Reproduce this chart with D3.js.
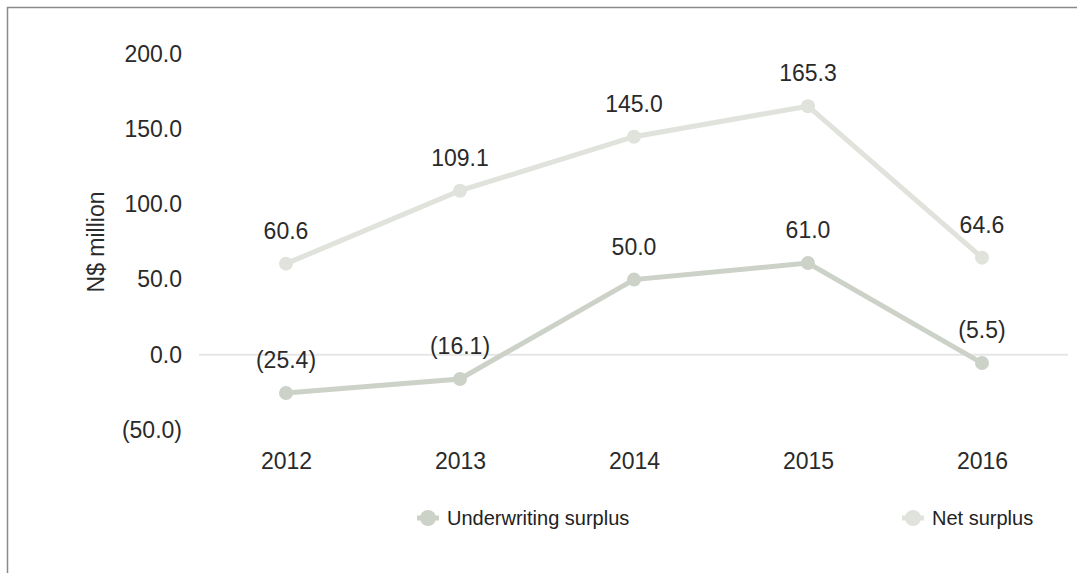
<!DOCTYPE html>
<html>
<head>
<meta charset="utf-8">
<script src="https://cdn.jsdelivr.net/npm/d3@7"></script>
<style>
  body { margin: 0; background: #fff; }
  svg { display: block; font-family: "Liberation Sans", Arial, sans-serif; }
</style>
</head>
<body>
<svg id="chart" width="1077" height="573"></svg>
<script>
const years = ["2012", "2013", "2014", "2015", "2016"];
const underwriting = [-25.4, -16.1, 50.0, 61.0, -5.5];
const netSurplus = [60.6, 109.1, 145.0, 165.3, 64.6];
const yTicks = [-50, 0, 50, 100, 150, 200];
const seriesNames = ["Underwriting surplus", "Net surplus"];

const colors = {under: "#cdd2c8", net: "#e0e2dc"};
const margin = {top: 54, right: 8, left: 199};
const W = 1077, H = 573;
const width = W - margin.left - margin.right;   // 870
const fs = 23;

const svg = d3.select("#chart");

// outer frame (top + left only)
svg.append("path")
  .attr("d", `M7.5,${H} V7.5 H${W}`)
  .attr("fill", "none")
  .attr("stroke", "#8a8a8a")
  .attr("stroke-width", 1.5);

const g = svg.append("g").attr("transform", `translate(${margin.left},${margin.top})`);

const x = d3.scalePoint().domain(years).range([0, width]).padding(0.5);
const y = d3.scaleLinear().domain([-50, 200]).range([376, 0]);

// zero line
g.append("line")
  .attr("x1", 0).attr("x2", width - 1)
  .attr("y1", y(0)).attr("y2", y(0))
  .attr("stroke", "#e6e6e6").attr("stroke-width", 2);

const fmt = (v) => v < 0 ? `(${d3.format(".1f")(-v)})` : d3.format(".1f")(v);

// y axis
const yAxis = g.append("g")
  .call(d3.axisLeft(y).tickValues(yTicks).tickFormat(fmt).tickSize(0).tickPadding(17));
yAxis.select(".domain").remove();
yAxis.selectAll("text").attr("font-size", fs).attr("fill", "#2a2a2a")
  .attr("font-family", "Liberation Sans, Arial, sans-serif");

// x axis
const xAxis = g.append("g")
  .attr("transform", `translate(0,${y(-50)})`)
  .call(d3.axisBottom(x).tickSize(0));
xAxis.select(".domain").remove();
xAxis.selectAll("text").attr("font-size", fs).attr("fill", "#2a2a2a")
  .attr("font-family", "Liberation Sans, Arial, sans-serif")
  .attr("y", 39).attr("dy", 0);

// y title
svg.append("text")
  .attr("transform", `translate(104,242) rotate(-90)`)
  .attr("text-anchor", "middle")
  .attr("font-size", fs).attr("fill", "#2a2a2a")
  .text("N$ million");

const line = d3.line().x((d, i) => x(years[i])).y(d => y(d));

function drawSeries(values, color) {
  g.append("path")
    .datum(values)
    .attr("d", line)
    .attr("fill", "none")
    .attr("stroke", color)
    .attr("stroke-width", 5);
  g.selectAll(null).data(values).join("circle")
    .attr("cx", (d, i) => x(years[i]))
    .attr("cy", d => y(d))
    .attr("r", 7)
    .attr("fill", color);
  g.selectAll(null).data(values).join("text")
    .attr("x", (d, i) => x(years[i]))
    .attr("y", d => y(d) - 25)
    .attr("text-anchor", "middle")
    .attr("font-size", fs).attr("fill", "#2a2a2a")
    .text(fmt);
}

drawSeries(netSurplus, colors.net);
drawSeries(underwriting, colors.under);

// legend
const legendItems = [
  {name: seriesNames[0], color: colors.under, x: 428},
  {name: seriesNames[1], color: colors.net, x: 913}
];
const lg = svg.selectAll(".legend").data(legendItems).join("g")
  .attr("class", "legend")
  .attr("transform", d => `translate(${d.x},518)`);
lg.append("line")
  .attr("x1", -11).attr("x2", 11)
  .attr("stroke", d => d.color).attr("stroke-width", 5);
lg.append("circle").attr("r", 8).attr("fill", d => d.color);
lg.append("text")
  .attr("x", 19).attr("dy", "0.35em")
  .attr("font-size", 20).attr("fill", "#222")
  .text(d => d.name);
</script>
</body>
</html>
